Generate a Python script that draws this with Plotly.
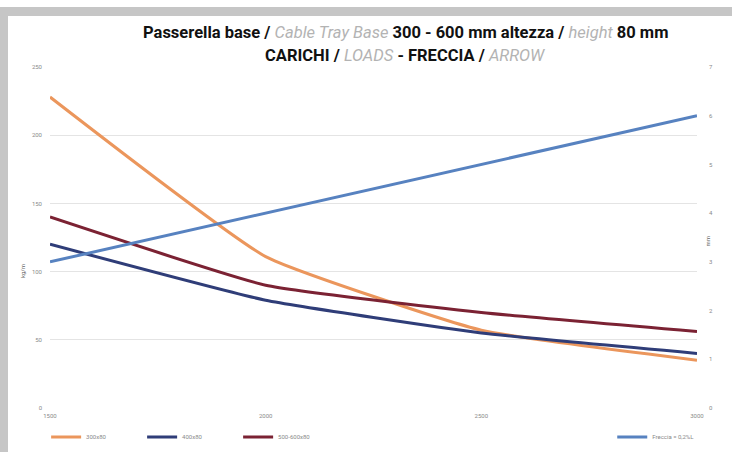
import plotly.graph_objects as go

lengths = [1500, 2000, 2500, 3000]
load_300x80 = [228, 111, 57, 35]
load_400x80 = [120, 79, 55, 40]
load_500_600x80 = [140, 90, 70, 56]
freccia = [3, 4, 5, 6]

series_names = ["300x80", "400x80", "500-600x80"]
freccia_name = "Freccia = 0,2%L"
GI = "<span style='font-weight:normal;font-style:italic;color:#b3b3b3'>"
title_line1 = ("Passerella base / " + GI + "Cable Tray Base</span> "
               "300 - 600 mm altezza / " + GI + "height</span> 80 mm")
title_line2 = "CARICHI / " + GI + "LOADS</span> - FRECCIA / " + GI + "ARROW</span>"
left_title = "kg/m"
right_title = "mm"

colors = ["#eb965c", "#2f3d78", "#7b2233"]
blue = "#5782c0"

fig = go.Figure()
for name, vals, c in zip(series_names, [load_300x80, load_400x80, load_500_600x80], colors):
    fig.add_trace(go.Scatter(x=lengths, y=vals, name=name, mode="lines",
                             line=dict(color=c, width=3, shape="spline", smoothing=0.4),
                             legend="legend"))
fig.add_trace(go.Scatter(x=lengths, y=freccia, name=freccia_name, mode="lines", yaxis="y2",
                         line=dict(color=blue, width=3), legend="legend2"))

tickfont = dict(family="Roboto", size=6, color="#8a8a8a")
legfont = dict(family="Roboto", size=6, color="#8a8a8a")
fig.update_layout(
    width=732, height=452,
    margin=dict(l=50, r=35, t=67, b=44, autoexpand=False),
    paper_bgcolor="white", plot_bgcolor="white",
    xaxis=dict(range=[1500, 3000], tickvals=lengths, showgrid=False, zeroline=False,
               showline=False, tickfont=tickfont, ticks="", ticklabelstandoff=3),
    yaxis=dict(range=[0, 250], dtick=50, showgrid=True, gridcolor="#e4e4e4", gridwidth=1,
               zeroline=False, tickfont=tickfont, ticks="", ticklabelstandoff=7),
    yaxis2=dict(range=[0, 7], dtick=1, overlaying="y", side="right", showgrid=False,
                zeroline=False, tickfont=tickfont, ticks="", ticklabelstandoff=11),
    legend=dict(orientation="h", x=-0.006, y=-0.085, xanchor="left", yanchor="middle",
                entrywidth=51, entrywidthmode="pixels", itemwidth=30,
                font=legfont, bgcolor="rgba(0,0,0,0)"),
    legend2=dict(orientation="h", x=0.869, y=-0.085, xanchor="left", yanchor="middle",
                 itemwidth=30, font=legfont, bgcolor="rgba(0,0,0,0)"),
    showlegend=True,
)

fig.add_annotation(text=title_line1, xref="paper", yref="paper", x=0.549, y=1.0, yshift=35,
                   showarrow=False, xanchor="center", yanchor="middle",
                   font=dict(family="Roboto", size=16.5, color="#111111", weight="bold"))
fig.add_annotation(text=title_line2, xref="paper", yref="paper", x=0.549, y=1.0, yshift=12,
                   showarrow=False, xanchor="center", yanchor="middle",
                   font=dict(family="Roboto", size=16.5, color="#111111", weight="bold"))
fig.add_annotation(text=left_title, xref="paper", yref="paper", x=0, y=0.4, xshift=-33,
                   showarrow=False, textangle=-90, font=dict(family="Roboto", size=6, color="#666"))
fig.add_annotation(text=right_title, xref="paper", yref="paper", x=1, y=0.49, xshift=16,
                   showarrow=False, textangle=-90, font=dict(family="Roboto", size=6, color="#666"))

# gray frame (top band and left band)
pw = 732 - 50 - 35
ph = 452 - 67 - 44
def px(xp): return (xp - 50) / pw
def py(yp): return (452 - 44 - yp) / ph
fig.add_shape(type="rect", xref="paper", yref="paper", x0=px(0), x1=px(732), y0=py(16), y1=py(7),
              fillcolor="#c6c6c6", line=dict(width=0), layer="below")
fig.add_shape(type="rect", xref="paper", yref="paper", x0=px(0), x1=px(8), y0=py(452), y1=py(7),
              fillcolor="#c6c6c6", line=dict(width=0), layer="below")

fig.write_html("out.html", config={"displayModeBar": False},
               post_script="document.body.style.margin='0';document.body.style.overflow='hidden';")
